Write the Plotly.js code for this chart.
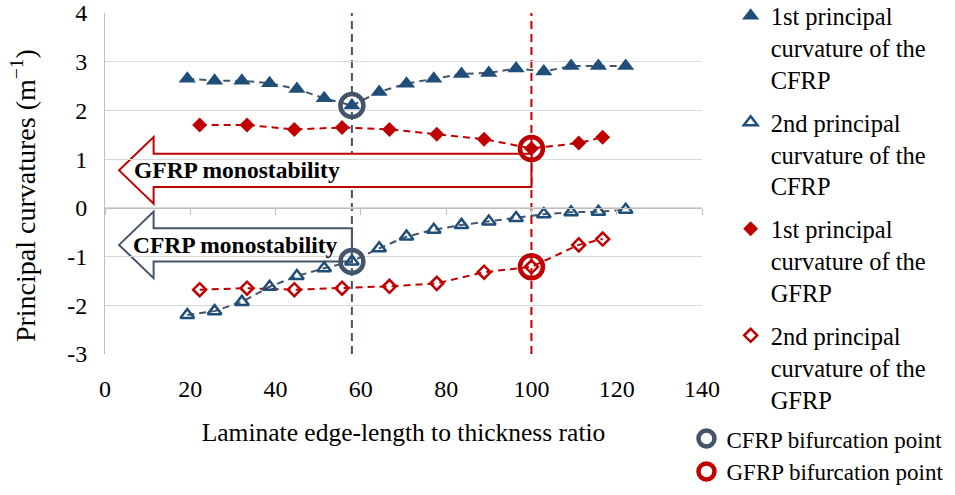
<!DOCTYPE html>
<html>
<head>
<meta charset="utf-8">
<script src="https://cdn.plot.ly/plotly-3.0.1.min.js"></script>
<style>html,body{margin:0;padding:0;background:#fff;}#chart{width:955px;height:495px;}</style>
</head>
<body>
<div id="chart"></div>
<script>
// ---- data ----
const cfrpX = [19.3, 25.7, 32.1, 38.6, 45.0, 51.4, 57.9, 64.3, 70.7, 77.1, 83.6, 90.0, 96.4, 102.9, 109.3, 115.7, 122.1];
const cfrp1 = [2.65, 2.61, 2.61, 2.56, 2.44, 2.25, 2.10, 2.38, 2.55, 2.65, 2.75, 2.77, 2.86, 2.80, 2.91, 2.91, 2.91];
const cfrp2 = [-2.20, -2.12, -1.93, -1.62, -1.40, -1.24, -1.10, -0.83, -0.59, -0.45, -0.35, -0.28, -0.21, -0.13, -0.09, -0.08, -0.04];
const gfrpX = [22.2, 33.3, 44.4, 55.6, 66.7, 77.8, 88.9, 100.0, 111.1, 116.7];
const gfrp1 = [1.70, 1.70, 1.61, 1.65, 1.61, 1.51, 1.41, 1.22, 1.33, 1.45];
const gfrp2 = [-1.68, -1.65, -1.68, -1.65, -1.61, -1.55, -1.32, -1.21, -0.76, -0.64];
const cfrpBifX = [57.9, 57.9];
const cfrpBifY = [2.10, -1.10];
const gfrpBifX = [100.0, 100.0];
const gfrpBifY = [1.22, -1.21];
const seriesNames = [
  "1st principal<br>curvature of the<br>CFRP",
  "2nd principal<br>curvature of the<br>CFRP",
  "1st principal<br>curvature of the<br>GFRP",
  "2nd principal<br>curvature of the<br>GFRP"
];
const bifNames = ["CFRP bifurcation point", "GFRP bifurcation point"];
const arrowLabels = ["GFRP monostability", "CFRP monostability"];
const xTitle = "Laminate edge-length to thickness ratio";
const yTitle = "Principal curvatures (m<sup>\u22121</sup>)";
const xTicks = [0, 20, 40, 60, 80, 100, 120, 140];
const yTicks = [-3, -2, -1, 0, 1, 2, 3, 4];

// ---- styles ----
const BLUE = "#1F4E79", SLATE = "#44546A", RED = "#C00000";
const FONT = "Liberation Serif, Times New Roman, serif";

function lineTrace(x, y, col) {
  return {x: x, y: y, type: "scatter", mode: "lines", showlegend: false, hoverinfo: "skip",
          line: {color: col, width: 2, dash: "7px,5px"}};
}
function markTrace(x, y, name, sym, col, size, lw) {
  return {x: x, y: y, name: name, type: "scatter", mode: "markers", legend: "legend",
          legendgroup: name,
          marker: {symbol: sym, size: size, color: col, line: {color: col, width: lw}}};
}
const traces = [
  lineTrace(cfrpX, cfrp1, SLATE),
  lineTrace(cfrpX, cfrp2, SLATE),
  lineTrace(gfrpX, gfrp1, RED),
  lineTrace(gfrpX, gfrp2, RED),
  markTrace(cfrpX, cfrp1, seriesNames[0], "triangle-up", BLUE, 15, 0),
  markTrace(cfrpX, cfrp2, seriesNames[1], "triangle-up-open", BLUE, 12, 2.5),
  markTrace(gfrpX, gfrp1, seriesNames[2], "diamond", RED, 11.5, 0),
  markTrace(gfrpX, gfrp2, seriesNames[3], "diamond-open", RED, 10, 2.5),
  {x: cfrpBifX, y: cfrpBifY, name: bifNames[0], type: "scatter", mode: "markers", legend: "legend2",
   marker: {symbol: "circle-open", size: 23, color: SLATE, line: {color: SLATE, width: 4.5}}},
  {x: gfrpBifX, y: gfrpBifY, name: bifNames[1], type: "scatter", mode: "markers", legend: "legend2",
   marker: {symbol: "circle-open", size: 23, color: RED, line: {color: RED, width: 4.5}}}
];

// arrows (left-pointing) ending at the bifurcation x
function arrowPath(xEnd, yc) {
  const tip = 3.3, base = 11.4, bh = 0.343, hh = 0.684;
  return `M ${xEnd},${yc + bh} L ${base},${yc + bh} L ${base},${yc + hh} L ${tip},${yc} ` +
         `L ${base},${yc - hh} L ${base},${yc - bh} L ${xEnd},${yc - bh} Z`;
}
const arrowY = [0.77, -0.76];
const shapes = [
  {type: "path", xref: "x", yref: "y", layer: "below", path: arrowPath(gfrpBifX[0], arrowY[0]),
   fillcolor: "#fff", line: {color: RED, width: 2}},
  {type: "path", xref: "x", yref: "y", layer: "below", path: arrowPath(cfrpBifX[0], arrowY[1]),
   fillcolor: "#fff", line: {color: SLATE, width: 2}},
  {type: "line", xref: "x", yref: "paper", layer: "below", x0: cfrpBifX[0], x1: cfrpBifX[0], y0: 0, y1: 1,
   line: {color: SLATE, width: 2, dash: "8px,5px"}},
  {type: "line", xref: "x", yref: "paper", layer: "below", x0: gfrpBifX[0], x1: gfrpBifX[0], y0: 0, y1: 1,
   line: {color: RED, width: 2, dash: "8px,5px"}}
];
const annotations = [
  {x: 30.9, y: arrowY[0], xref: "x", yref: "y", text: "<b>" + arrowLabels[0] + "</b>", showarrow: false,
   font: {family: FONT, size: 23.5, color: "#000"}},
  {x: 30.7, y: arrowY[1], xref: "x", yref: "y", text: "<b>" + arrowLabels[1] + "</b>", showarrow: false,
   font: {family: FONT, size: 23.5, color: "#000"}},
  {x: -0.1374, y: 0.466, xref: "paper", yref: "paper", text: yTitle, textangle: -90, showarrow: false,
   xanchor: "center", yanchor: "middle", font: {family: FONT, size: 28, color: "#000"}}
];

const layout = {
  width: 955, height: 495,
  margin: {l: 105, r: 253, t: 13, b: 141, autoexpand: false},
  paper_bgcolor: "#fff", plot_bgcolor: "#fff",
  font: {family: FONT, size: 24, color: "#000"},
  showlegend: true,
  xaxis: {
    range: [0, 140], tickvals: xTicks, ticktext: xTicks.map(String),
    showgrid: false, zeroline: false, showline: false, ticks: "",
    ticklabelstandoff: 18,
    tickfont: {family: FONT, size: 24, color: "#000"},
    title: {text: xTitle, standoff: 22, font: {family: FONT, size: 25.5, color: "#000"}}
  },
  xaxis2: {
    range: [0, 140], overlaying: "x", anchor: "free", position: 3 / 7,
    tickvals: xTicks, showticklabels: false, ticks: "outside", ticklen: 6, tickcolor: "#BFBFBF",
    showgrid: false, zeroline: false, showline: true, linecolor: "#BFBFBF", linewidth: 1
  },
  yaxis: {
    range: [-3, 4], tickvals: yTicks, ticktext: yTicks.map(String),
    showgrid: true, gridcolor: "#D9D9D9", gridwidth: 1, zeroline: false,
    showline: true, linecolor: "#BFBFBF", linewidth: 1, ticks: "",
    ticklabelstandoff: 12,
    tickfont: {family: FONT, size: 24, color: "#000"}
  },
  legend: {
    x: 1.048, xanchor: "left", y: 1.058, yanchor: "top", maxheight: 480,
    font: {family: FONT, size: 24.5, color: "#000"}, valign: "top",
    traceorder: "grouped", tracegroupgap: 8, bgcolor: "rgba(0,0,0,0)", itemwidth: 30
  },
  legend2: {
    x: 0.974, xanchor: "left", y: -0.185, yanchor: "top",
    font: {family: FONT, size: 23, color: "#000"}, bgcolor: "rgba(0,0,0,0)", itemwidth: 30,
    tracegroupgap: 0
  },
  shapes: shapes,
  annotations: annotations
};
// dummy trace to activate xaxis2 (ticks along y = 0)
traces.push({x: [0], y: [0], xaxis: "x2", yaxis: "y", mode: "markers", marker: {opacity: 0},
             showlegend: false, hoverinfo: "skip"});

Plotly.newPlot("chart", traces, layout, {staticPlot: true, displayModeBar: false});
</script>
</body>
</html>
